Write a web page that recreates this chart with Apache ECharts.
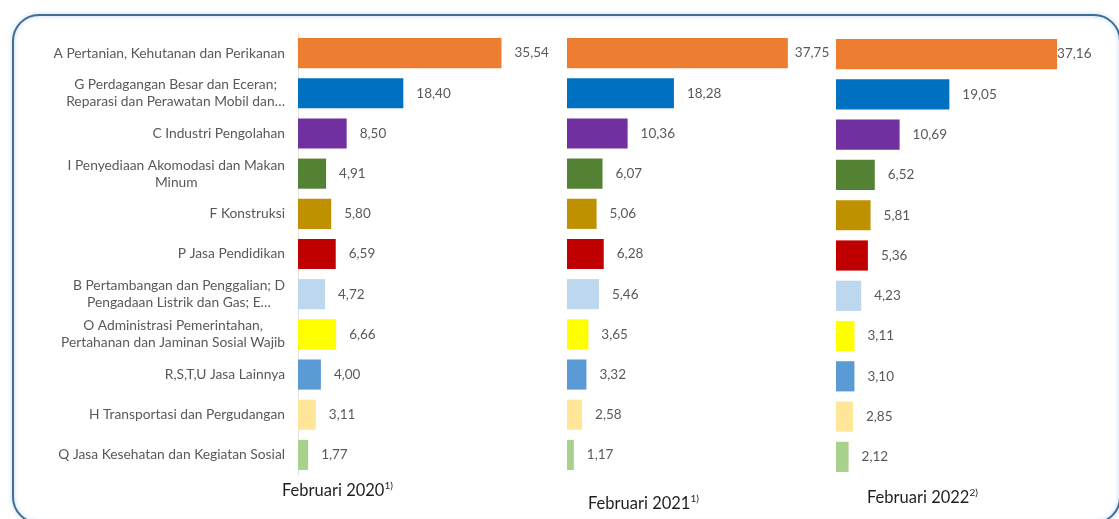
<!DOCTYPE html>
<html>
<head>
<meta charset="utf-8">
<script src="https://cdn.jsdelivr.net/npm/echarts@6/dist/echarts.min.js"></script>
<style>
html,body{margin:0;padding:0;background:#fff;}
#c{width:1119px;height:519px;}
</style>
</head>
<body>
<div id="c"></div>
<script>
const categories = [
  "A Pertanian, Kehutanan dan Perikanan",
  "G Perdagangan Besar dan Eceran;\nReparasi dan Perawatan Mobil dan…",
  "C Industri Pengolahan",
  "I Penyediaan Akomodasi dan Makan\nMinum",
  "F Konstruksi",
  "P Jasa Pendidikan",
  "B Pertambangan dan Penggalian; D\nPengadaan Listrik dan Gas; E…",
  "O Administrasi Pemerintahan,\nPertahanan dan Jaminan Sosial Wajib",
  "R,S,T,U Jasa Lainnya",
  "H Transportasi dan Pergudangan",
  "Q Jasa Kesehatan dan Kegiatan Sosial"
];
const values2020 = [35.54, 18.40, 8.50, 4.91, 5.80, 6.59, 4.72, 6.66, 4.00, 3.11, 1.77];
const values2021 = [37.75, 18.28, 10.36, 6.07, 5.06, 6.28, 5.46, 3.65, 3.32, 2.58, 1.17];
const values2022 = [37.16, 19.05, 10.69, 6.52, 5.81, 5.36, 4.23, 3.11, 3.10, 2.85, 2.12];
const periodNames = ["Februari 2020", "Februari 2021", "Februari 2022"];
const periodNotes = ["1)", "1)", "2)"];
const barColors = ["#ED7D31", "#0070C0", "#7030A0", "#548235", "#BF9000", "#C00000",
                   "#BDD7EE", "#FFFF00", "#5B9BD5", "#FFE699", "#A9D18E"];

const FONT = "Lato, 'Open Sans', sans-serif";
const panels = [
  {values: values2020, left: 298, width: 229, top: 33, height: 442, topDist: 13, titleLeft: 282, titleTop: 481},
  {values: values2021, left: 567, width: 234, top: 33, height: 442, topDist: 7, titleLeft: 588, titleTop: 494},
  {values: values2022, left: 836, width: 238, top: 34, height: 443, topDist: 0, titleLeft: 867, titleTop: 488}
];

const chart = echarts.init(document.getElementById('c'), null, {renderer: 'canvas'});
const fmt = v => v.toFixed(2).replace('.', ',');

const option = {
  backgroundColor: '#ffffff',
  animation: false,
  title: panels.map((p, i) => ({
    text: '{a|' + periodNames[i] + '}{s|' + periodNotes[i] + '}',
    left: p.titleLeft,
    top: p.titleTop,
    padding: 0,
    textStyle: {
      fontWeight: 'normal',
      rich: {
        a: {fontSize: 16.5, fontWeight: 'normal', color: '#1F1F1F', fontFamily: FONT, lineHeight: 19},
        s: {fontSize: 10, fontWeight: 'normal', color: '#1F1F1F', fontFamily: FONT, verticalAlign: 'top', lineHeight: 19, padding: [0, 0, 6, 0]}
      }
    }
  })),
  grid: panels.map(p => ({left: p.left, width: p.width, top: p.top, height: p.height, containLabel: false})),
  xAxis: panels.map((p, i) => ({
    type: 'value', gridIndex: i, min: 0, max: 40, show: false
  })),
  yAxis: panels.map((p, i) => ({
    type: 'category', gridIndex: i, data: categories, inverse: true,
    axisTick: {show: false},
    axisLine: {show: i === 0, lineStyle: {color: '#E3E3E3', width: 1}},
    splitLine: {show: false},
    axisLabel: {
      show: i === 0, interval: 0, margin: 13, align: 'right',
      formatter: v => v.split('\n').map(s => '{c|' + s + '}').join('\n'),
      rich: {c: {align: 'center', fontSize: 13.8, color: '#595959', fontFamily: FONT, lineHeight: 17}}
    }
  })),
  series: panels.map((p, i) => ({
    type: 'bar', xAxisIndex: i, yAxisIndex: i, barWidth: '75%',
    data: p.values.map((v, k) => {
      const item = {value: v, itemStyle: {color: barColors[k]}};
      if (k === 0) item.label = {distance: p.topDist};
      return item;
    }),
    label: {
      show: true, position: 'right', distance: 13,
      formatter: d => fmt(d.value),
      fontSize: 13.5, color: '#595959', fontFamily: FONT
    }
  })),
  graphic: [{
    type: 'rect', z: -1,
    shape: {x: 13, y: 15, width: 1107, height: 508, r: 26},
    style: {fill: 'none', stroke: '#3E6E96', lineWidth: 2, shadowBlur: 4, shadowColor: 'rgba(120,170,215,0.6)'}
  }]
};
chart.setOption(option);
</script>
</body>
</html>
